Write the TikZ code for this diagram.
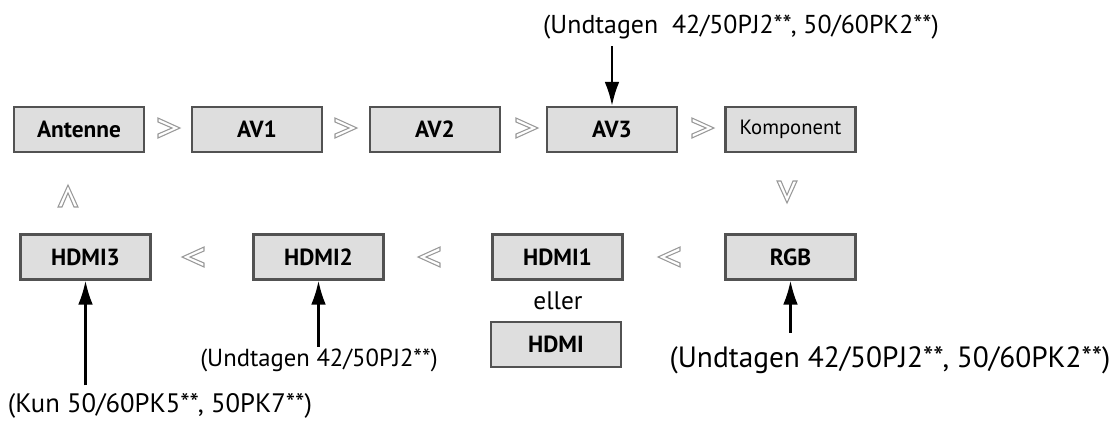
\documentclass[tikz,border=0pt]{standalone}
\usepackage{fontspec}
\setmainfont{PT Sans}
\usetikzlibrary{arrows.meta}

\begin{document}
\begin{tikzpicture}[x=0.75pt,y=-0.75pt,
  box/.style={draw=black!68,line width=1.6pt,fill=black!13,minimum width=97.5pt,minimum height=33.75pt,inner sep=0pt,font=\bfseries\fontsize{17.5}{19}\selectfont},
  note/.style={inner sep=1pt,font=\fontsize{#1}{#1}\selectfont},
  ptr/.style={-{Latex[length=18pt,width=11pt]},line width=1.8pt},
  chev/.pic={\draw[black!40,line width=0.8pt,line join=miter] (-11,-10)--(11,0)--(-11,10)--(-11,6)--(3,0)--(-11,-6)--cycle;},
]
\useasboundingbox (0,0) rectangle (1120,426);
\node[box] (ant) at (79,129.5) {Antenne};
\node[box] (av1) at (257,129.5) {AV1};
\node[box] (av2) at (435,129.5) {AV2};
\node[box] (av3) at (612,129.5) {AV3};
\node[box,font=\fontsize{15.5}{17}\selectfont] (komp) at (790.5,129.5) {Komponent};
\node[box] (hdmi3) at (85.5,257) {HDMI3};
\node[box] (hdmi2) at (318.5,257) {HDMI2};
\node[box] (hdmi1) at (557.5,257) {HDMI1};
\node[box] (rgb) at (790.5,257) {RGB};
\node[box] (hdmi) at (556,344.5) {HDMI};
\node[note=19] (eller) at (558,301) {eller};
\foreach \x in {169,346,527,703}{\pic at (\x,128) {chev};}
\foreach \x in {193,429,669}{\pic[rotate=180] at (\x,257) {chev};}
\pic[rotate=-90] at (787,192) {chev};
\pic[rotate=90] at (68,196) {chev};
\node[note=19.4] (nav3) at (741,27) {(Undtagen\ \ 42/50PJ2**, 50/60PK2**)};
\node[note=22] (nrgb) at (890,360) {(Undtagen 42/50PJ2**, 50/60PK2**)};
\node[note=18.5] (nhdmi2) at (319,360) {(Undtagen 42/50PJ2**)};
\node[note=20] (nhdmi3) at (160,406) {(Kun 50/60PK5**, 50PK7**)};
\draw[ptr,shorten <=4pt] (av3.north |- nav3.south) -- (av3.north);
\draw[ptr,shorten <=9pt] (rgb.south |- nrgb.north) -- (rgb.south);
\draw[ptr] (hdmi2.south |- nhdmi2.north) -- (hdmi2.south);
\draw[ptr,shorten <=5pt] (hdmi3.south |- nhdmi3.north) -- (hdmi3.south);
\end{tikzpicture}
\end{document}
